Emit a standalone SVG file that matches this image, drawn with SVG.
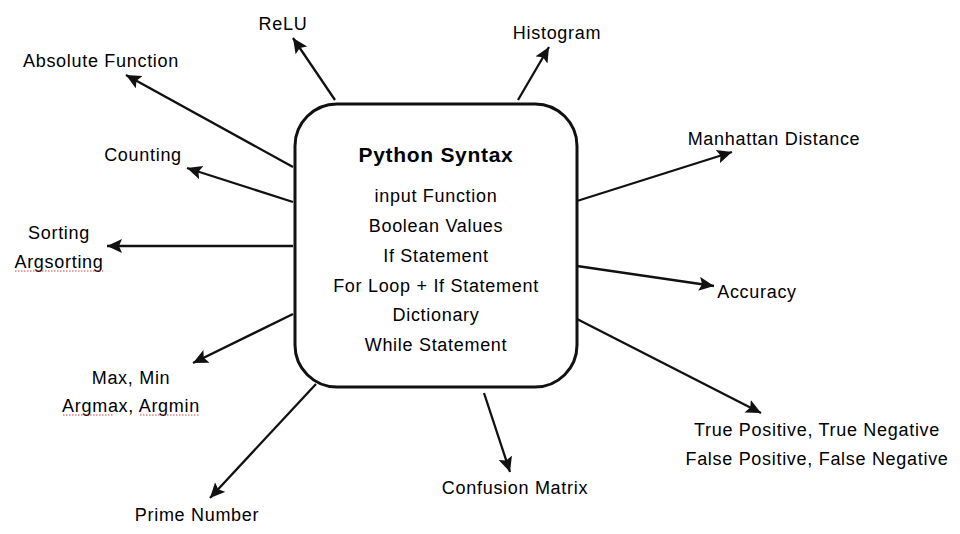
<svg xmlns="http://www.w3.org/2000/svg" width="960" height="534" viewBox="0 0 960 534">
  <defs>
    <style>
      .lbl { font-family: "Liberation Sans", Arial, sans-serif; font-size: 18px; letter-spacing: 0.7px; fill: #000; text-anchor: middle; }
      .title { font-family: "Liberation Sans", Arial, sans-serif; font-size: 21px; font-weight: bold; letter-spacing: 0.7px; fill: #000; text-anchor: middle; }
      .conn { stroke: #111; stroke-width: 2.3; fill: none; marker-end: url(#ah); }
      .box { fill: #fff; stroke: #111; stroke-width: 3; }
      .spell { stroke: #e04040; stroke-width: 1.2; stroke-dasharray: 1.5 1.5; fill: none; }
    </style>
    <marker id="ah" markerUnits="userSpaceOnUse" markerWidth="18" markerHeight="16" refX="15" refY="7" orient="auto">
      <path d="M0,0 L15,7 L0,14 L3,7 Z" fill="#111"/>
    </marker>
  </defs>
  <rect width="960" height="534" fill="#fff"/>

  <g id="connectors">
    <line class="conn" x1="335" y1="100" x2="293" y2="38"/>
    <line class="conn" x1="518" y1="100" x2="549" y2="47"/>
    <line class="conn" x1="293" y1="167" x2="126" y2="75"/>
    <line class="conn" x1="293" y1="202" x2="187" y2="168"/>
    <line class="conn" x1="293" y1="246" x2="107" y2="246"/>
    <line class="conn" x1="293" y1="314" x2="193" y2="363"/>
    <line class="conn" x1="316" y1="384" x2="210" y2="498"/>
    <line class="conn" x1="484" y1="393" x2="510" y2="472"/>
    <line class="conn" x1="577" y1="201" x2="732" y2="152"/>
    <line class="conn" x1="577" y1="266" x2="714" y2="286"/>
    <line class="conn" x1="577" y1="319" x2="761" y2="413"/>
  </g>

  <g id="center">
    <rect class="box" x="295" y="104" width="282" height="283" rx="42" ry="42"/>
    <text class="title" x="436" y="162">Python Syntax</text>
    <text class="lbl" x="436" y="202">input Function</text>
    <text class="lbl" x="436" y="232">Boolean Values</text>
    <text class="lbl" x="436" y="262">If Statement</text>
    <text class="lbl" x="436" y="292">For Loop + If Statement</text>
    <text class="lbl" x="436" y="321">Dictionary</text>
    <text class="lbl" x="436" y="351">While Statement</text>
  </g>

  <g id="relu"><text class="lbl" x="283" y="30">ReLU</text></g>
  <g id="histogram"><text class="lbl" x="557" y="39">Histogram</text></g>
  <g id="absolute"><text class="lbl" x="101" y="67">Absolute Function</text></g>
  <g id="counting"><text class="lbl" x="143" y="161">Counting</text></g>
  <g id="sorting">
    <text class="lbl" x="59" y="239">Sorting</text>
    <text class="lbl" x="59" y="268">Argsorting</text>
    <line class="spell" x1="15" y1="271" x2="103" y2="271"/>
  </g>
  <g id="maxmin">
    <text class="lbl" x="131" y="384">Max, Min</text>
    <text class="lbl" x="131" y="412">Argmax, Argmin</text>
    <line class="spell" x1="63" y1="415" x2="114" y2="415"/>
    <line class="spell" x1="140" y1="415" x2="199" y2="415"/>
  </g>
  <g id="prime"><text class="lbl" x="197" y="521">Prime Number</text></g>
  <g id="confusion"><text class="lbl" x="515" y="494">Confusion Matrix</text></g>
  <g id="truefalse">
    <text class="lbl" x="817" y="436">True Positive, True Negative</text>
    <text class="lbl" x="817" y="465">False Positive, False Negative</text>
  </g>
  <g id="accuracy"><text class="lbl" x="757" y="298">Accuracy</text></g>
  <g id="manhattan"><text class="lbl" x="774" y="145">Manhattan Distance</text></g>
</svg>
